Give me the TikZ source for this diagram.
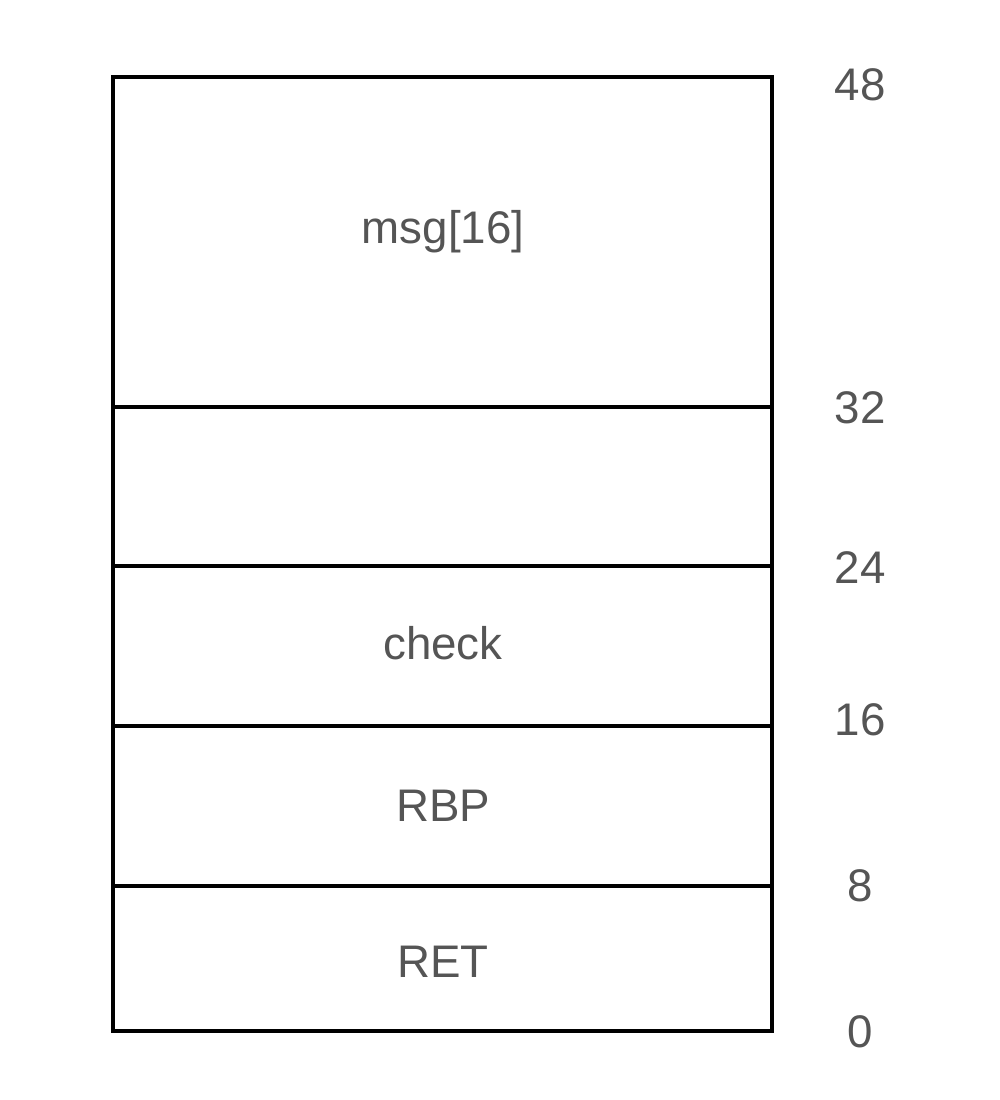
\documentclass[tikz,border=0pt]{standalone}
\usepackage{fontspec}
\setmainfont{Liberation Sans}
\definecolor{labelgray}{HTML}{555555}
\tikzset{
    cell/.style={draw, line width=1.2pt},
    celltext/.style={text=labelgray, font=\fontsize{13}{15}\selectfont},
    offset/.style={text=labelgray, font=\fontsize{13}{15}\selectfont}
}
\begin{document}
\begin{tikzpicture}
    \useasboundingbox (0,0) rectangle (10,11);
    % stack frame cells, top to bottom
    \draw[cell] (1.13,10.23) rectangle (7.72,6.93);
    \draw[cell] (1.13,6.93) rectangle (7.72,5.34);
    \draw[cell] (1.13,5.34) rectangle (7.72,3.74);
    \draw[cell] (1.13,3.74) rectangle (7.72,2.14);
    \draw[cell] (1.13,2.14) rectangle (7.72,0.69);
    \node[celltext] (msg) at (4.43,8.68) {msg[16]};
    \node[celltext] (check) at (4.43,4.57) {check};
    \node[celltext] (rbp) at (4.43,2.94) {RBP};
    \node[celltext] (ret) at (4.43,1.38) {RET};
    % offsets
    \node[offset] (o48) at (8.6,10.15) {48};
    \node[offset] (o32) at (8.6,6.92) {32};
    \node[offset] (o24) at (8.6,5.32) {24};
    \node[offset] (o16) at (8.6,3.80) {16};
    \node[offset] (o8) at (8.6,2.14) {8};
    \node[offset] (o0) at (8.6,0.68) {0};
\end{tikzpicture}
\end{document}
